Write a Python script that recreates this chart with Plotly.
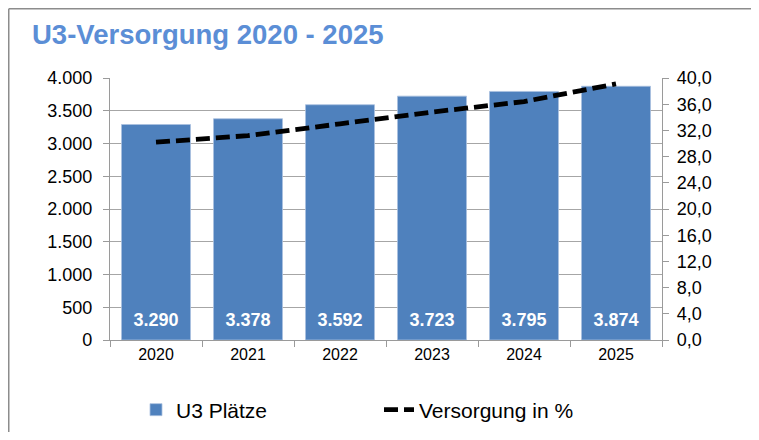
import plotly.graph_objects as go

years = ["2020", "2021", "2022", "2023", "2024", "2025"]
places = [3290, 3378, 3592, 3723, 3795, 3874]
coverage = [30.2, 31.2, 33.0, 34.8, 36.4, 39.1]
label_level = 290  # vertical position of the value labels inside the bars (axis units)

OFF = 8  # page offset of the figure in the screenshot
W, H = 759 - 2 * OFF, 440 - 2 * OFF
# plot area in screen pixels: x 110..662, y 78..340
ML, MT = 110 - OFF, 78 - OFF
MR, MB = W - (662 - OFF), H - (340 - OFF)
pw, ph = W - ML - MR, H - MT - MB

def px_x(p):  # figure px -> paper
    return (p - ML) / pw

def px_y(p):
    return (H - MB - p) / ph

fig = go.Figure()
fig.add_trace(go.Bar(
    x=years, y=places, name="U3 Plätze",
    marker=dict(color="#4F81BD", line=dict(color="#A9C0E0", width=0.8)),
))
fig.add_trace(go.Scatter(
    x=years, y=[label_level] * len(years), customdata=places, mode="text",
    texttemplate="%{customdata:,d}", textposition="middle center",
    textfont=dict(family="Liberation Sans", size=18, color="white", weight="bold"),
    showlegend=False, hoverinfo="skip",
))
fig.add_trace(go.Scatter(
    x=years, y=coverage, name="Versorgung in %", yaxis="y2", mode="lines",
    line=dict(color="black", width=4.8, dash="14px,6px"),
))

frame = dict(color="#8C8C8C", width=1.5)
fig.update_layout(
    width=W, height=H,
    margin=dict(l=ML, r=MR, t=MT, b=MB, autoexpand=False),
    paper_bgcolor="white", plot_bgcolor="white",
    separators=",.",
    font=dict(family="Liberation Sans", size=18, color="black"),
    bargap=0.25,
    title=dict(text="<b>U3-Versorgung 2020 - 2025</b>", x=(32 - OFF) / W, xref="container", xanchor="left",
               y=1 - 26 / H, yanchor="middle",
               font=dict(family="Liberation Sans", size=27.5, color="#5B8ED6")),
    xaxis=dict(showline=True, linecolor="#9A9A9A", linewidth=1.2, ticks="outside", tickson="boundaries",
               ticklen=6, tickcolor="#9A9A9A", showgrid=False, tickfont=dict(size=16)),
    yaxis=dict(range=[0, 4000], dtick=500, tickformat=",d", showline=True, linecolor="#9A9A9A",
               linewidth=1.2, ticks="outside", ticklen=6, tickcolor="#9A9A9A",
               showgrid=True, gridcolor="#A6A6A6", gridwidth=1.2, zeroline=False, ticklabelstandoff=7),
    yaxis2=dict(range=[0, 40], dtick=4, tickformat=",.1f", overlaying="y", side="right",
                showline=True, linecolor="#9A9A9A", linewidth=1.2, ticks="outside", ticklen=6,
                tickcolor="#9A9A9A", showgrid=False, zeroline=False, ticklabelstandoff=4),
    legend=dict(orientation="h", xref="container", yref="container", x=128 / W, xanchor="left",
                y=1 - 402 / H, yanchor="middle",
                entrywidth=198, font=dict(size=21), bgcolor="rgba(0,0,0,0)"),
    shapes=[
        dict(type="line", xref="paper", yref="paper", x0=px_x(0.75), x1=px_x(W + 20),
             y0=px_y(0.75), y1=px_y(0.75), line=frame, layer="below"),
        dict(type="line", xref="paper", yref="paper", x0=px_x(0.75), x1=px_x(0.75),
             y0=px_y(0.75), y1=px_y(H + 20), line=frame, layer="below"),
    ],
)

fig.write_html("out.html")
